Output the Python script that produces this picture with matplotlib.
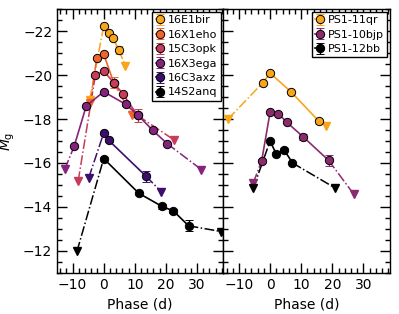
#recreation of the absolute magnitude light curve panels
import numpy as np
import matplotlib
matplotlib.use("Agg")
import matplotlib.pyplot as plt
from matplotlib.ticker import MultipleLocator

# ---- left panel: DES objects ----
names_L = ["16E1bir", "16X1eho", "15C3opk", "16X3ega", "16C3axz", "14S2anq"]
colors_L = ["#f9a51b", "#f0642c", "#c63c5a", "#86237e", "#3c0f6c", "#000000"]

phase_L = [
    [0.0, 1.6, 3.1, 4.8],
    [-2.25, 0.0, 3.2],
    [-2.7, 0.0, 3.2, 6.2, 10.9],
    [-9.5, -5.6, 0.0, 7.2, 11.1, 15.8, 20.4],
    [0.0, 1.6, 13.6],
    [0.0, 11.3, 18.8, 22.4, 27.3],
]
mag_L = [
    [-22.23, -21.90, -21.67, -21.14],
    [-20.78, -20.95, -19.66],
    [-19.98, -20.19, -19.65, -19.14, -18.16],
    [-16.76, -18.60, -19.24, -18.66, -18.16, -17.48, -16.88],
    [-17.36, -17.03, -15.40],
    [-16.20, -14.62, -14.02, -13.82, -13.14],
]
err_L = [
    [0.05, 0.05, 0.05, 0.18],
    [0.06, 0.06, 0.25],
    [0.05, 0.05, 0.08, 0.06, 0.30],
    [0.05, 0.05, 0.05, 0.05, 0.05, 0.05, 0.05],
    [0.06, 0.06, 0.25],
    [0.06, 0.06, 0.10, 0.10, 0.25],
]
# upper limits (phase, mag) before first and after last detection
early_L = [(-4.5, -18.87), (-4.3, -18.75), (-8.2, -15.18), (-12.5, -15.72), (-4.8, -15.33), (-8.6, -11.98)]
late_L = [(7.0, -20.42), (9.1, -18.16), (22.5, -17.06), (31.4, -15.70), (18.5, -14.69), (37.8, -12.88)]

# ---- right panel: PS1 objects ----
names_R = ["PS1-11qr", "PS1-10bjp", "PS1-12bb"]
colors_R = ["#f9a51b", "#8c2a6e", "#000000"]

phase_R = [
    [-2.4, 0.0, 6.7, 15.7],
    [-2.7, 0.0, 2.7, 5.3, 10.7, 18.8],
    [0.0, 1.9, 4.5, 7.2],
]
mag_R = [
    [-19.64, -20.09, -19.24, -17.90],
    [-16.10, -18.31, -18.24, -17.86, -17.18, -16.12],
    [-17.00, -16.43, -16.60, -16.00],
]
err_R = [
    [0.05, 0.05, 0.05, 0.12],
    [0.06, 0.05, 0.05, 0.05, 0.12, 0.25],
    [0.06, 0.06, 0.06, 0.06],
]
early_R = [(-13.5, -18.00), (-5.4, -15.10), (-5.4, -14.85)]
late_R = [(18.1, -17.68), (26.9, -14.58), (20.8, -14.87)]


def draw(ax, names, colors, phase, mag, err, early, late):
    for i in range(len(names)):
        c = colors[i]
        ax.plot([early[i][0], phase[i][0]], [early[i][1], mag[i][0]], "-.", color=c, lw=1.1, zorder=2)
        ax.plot([phase[i][-1], late[i][0]], [mag[i][-1], late[i][1]], "-.", color=c, lw=1.1, zorder=2)
        ax.plot([early[i][0], late[i][0]], [early[i][1], late[i][1]], "v", color=c,
                mec=c, ms=5.5, zorder=3, clip_on=False)
        ax.errorbar(phase[i], mag[i], yerr=err[i], fmt="o-", color=c, mfc=c, mec="black",
                    mew=0.7, ms=6, lw=1.2, capsize=3, elinewidth=1, zorder=4, label=names[i])
    leg = ax.legend(loc="upper right", fontsize=8, fancybox=False, framealpha=1,
                    edgecolor="black", borderaxespad=0.25, handletextpad=0.3,
                    borderpad=0.3, labelspacing=0.4, handlelength=0.8)
    leg.get_frame().set_linewidth(1.0)
    leg.set_zorder(10)


fig, (ax1, ax2) = plt.subplots(1, 2, sharey=True, figsize=(3.99, 3.14), dpi=100)
fig.subplots_adjust(left=0.143, right=0.977, top=0.971, bottom=0.131, wspace=0)

draw(ax1, names_L, colors_L, phase_L, mag_L, err_L, early_L, late_L)
draw(ax2, names_R, colors_R, phase_R, mag_R, err_R, early_R, late_R)

for ax in (ax1, ax2):
    ax.set_xlim(-15, 38.5)
    ax.set_ylim(-11, -23)
    ax.xaxis.set_major_locator(MultipleLocator(10))
    ax.xaxis.set_minor_locator(MultipleLocator(2))
    ax.yaxis.set_major_locator(MultipleLocator(2))
    ax.yaxis.set_minor_locator(MultipleLocator(0.5))
    ax.tick_params(which="both", direction="in", top=True, right=True, labelsize=10)
    ax.tick_params(which="major", length=7, width=1)
    ax.tick_params(which="minor", length=3.5, width=1)
    ax.set_xlabel("Phase (d)", fontsize=10)
    for s in ax.spines.values():
        s.set_linewidth(1)

ax1.set_ylabel(r"$M_{\rm g}$", fontsize=10)
ax2.tick_params(labelleft=False)

plt.savefig("out.png", dpi=100)
